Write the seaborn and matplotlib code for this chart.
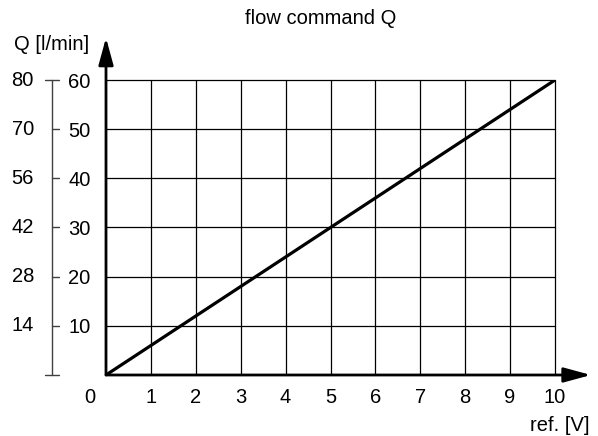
import matplotlib
matplotlib.use("Agg")
import matplotlib.pyplot as plt
import seaborn as sns

# data
ref_v = [0, 10]
flow = [0, 60]
x_ticks = [1, 2, 3, 4, 5, 6, 7, 8, 9, 10]
y_ticks = [10, 20, 30, 40, 50, 60]
outer_labels = ["14", "28", "42", "56", "70", "80"]

FS = 14.5
sns.set_style("white")
plt.rcParams['font.family'] = ['Liberation Sans', 'DejaVu Sans']
plt.rcParams['font.size'] = FS
plt.rcParams['text.color'] = 'black'
plt.rcParams['xtick.color'] = 'black'
plt.rcParams['ytick.color'] = 'black'

W, H = 598, 436
fig = plt.figure(figsize=(W / 100, H / 100), dpi=100)
# plot area in pixels: x 106..555, y 80..375
ax = fig.add_axes([106 / W, 1 - 375 / H, (555 - 106) / W, (375 - 80) / H])

sns.lineplot(x=ref_v, y=flow, color='black', linewidth=2.3, ax=ax)

ax.set_xlim(0, 10)
ax.set_ylim(0, 60)
ax.set_xticks(x_ticks)
ax.set_yticks(y_ticks)
ax.tick_params(axis='x', length=0, pad=9, labelsize=FS, labelcolor='black')
ax.tick_params(axis='y', length=0, pad=11, labelsize=FS, labelcolor='black')
ax.grid(True, color='black', linewidth=0.9)
for l in ax.get_xgridlines() + ax.get_ygridlines():
    l.set_clip_on(False)
for s in ax.spines.values():
    s.set_visible(False)
ax.set_xlabel('')
ax.set_ylabel('')

# axis arrows
arrow = dict(arrowstyle='-|>,head_length=1.1,head_width=0.3', mutation_scale=15,
             color='black', lw=2, shrinkA=0, shrinkB=0)
ax.annotate('', xy=(0, 68.6), xytext=(0, 0), arrowprops=arrow, annotation_clip=False)
ax.annotate('', xy=(10.8, 0), xytext=(0, 0), arrowprops=arrow, annotation_clip=False)

# "0" at origin, offset left
ax.text(-0.36, -4.5, '0', ha='center', va='center', fontsize=FS, color='black')

# outer l/min scale
tr = ax.get_yaxis_transform()
x_line = (52 - 106) / 449
x_left = (45 - 106) / 449
x_right = (59 - 106) / 449
ax.plot([x_line, x_line], [0, 60], color='0.25', lw=1, transform=tr, clip_on=False)
for yv, lab in zip(y_ticks, outer_labels):
    x0 = x_left if yv == 60 else x_line
    ax.plot([x0, x_right], [yv, yv], color='0.25', lw=1, transform=tr, clip_on=False)
    ax.text((34 - 106) / 449, yv, lab, transform=tr, ha='right', va='center',
            fontsize=FS, color='black')
ax.plot([x_left, x_right], [0, 0], color='0.25', lw=1, transform=tr, clip_on=False)

fig.text(52 / W, 1 - 45 / H, 'Q [l/min]', ha='center', va='center', fontsize=FS, color='black')
fig.text(590 / W, 1 - 425 / H, 'ref. [V]', ha='right', va='center', fontsize=FS, color='black')
fig.text(321 / W, 1 - 18 / H, 'flow command Q', ha='center', va='center', fontsize=FS, color='black')

fig.savefig('out.png', dpi=100)
